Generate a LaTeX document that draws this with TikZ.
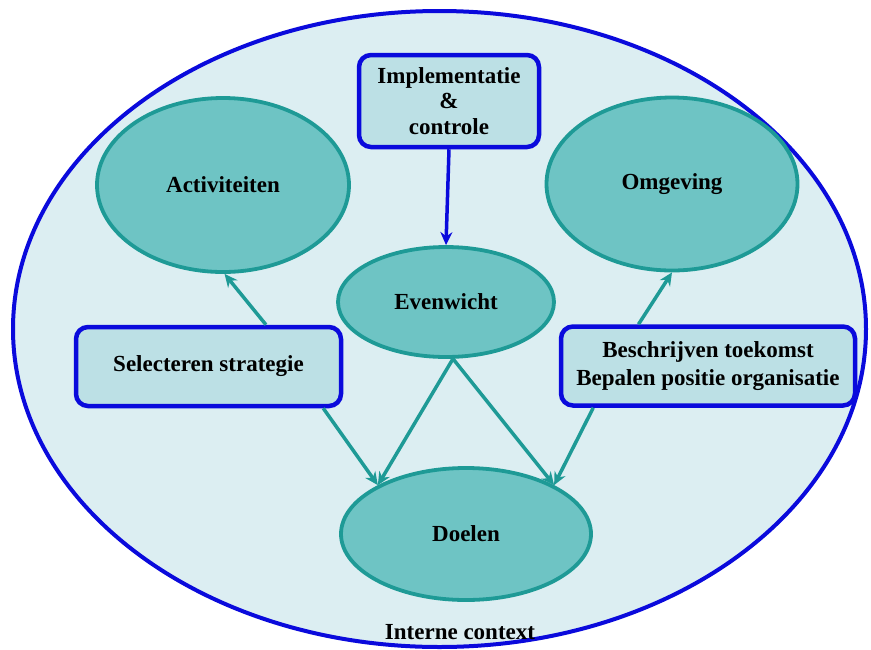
\documentclass[tikz,border=0pt]{standalone}
\usepackage{fontspec}
\setmainfont{Liberation Serif}
\usetikzlibrary{shapes.geometric,arrows.meta}

\definecolor{ctxfill}{HTML}{DCEEF2}
\definecolor{ctxblue}{HTML}{0A0ADC}
\definecolor{boxfill}{HTML}{BCE0E5}
\definecolor{tealfill}{HTML}{6EC4C4}
\definecolor{tealline}{HTML}{1E9A96}

\tikzset{
  blob/.style={ellipse, draw=tealline, fill=tealfill, line width=3.8pt, inner sep=0pt},
  taskbox/.style={rectangle, rounded corners=12pt, draw=ctxblue, fill=boxfill, line width=4.5pt, align=center, inner sep=0pt},
  flow/.style={-{Stealth[length=13pt,width=12pt]}, color=tealline, line width=3.5pt},
}

\begin{document}
\begin{tikzpicture}[x=1pt, y=-1pt, font=\fontsize{23}{25.5}\selectfont\bfseries]
    \useasboundingbox (0,0) rectangle (871,649);
    \node (ctx) at (439.5,329) [ellipse, draw=ctxblue, fill=ctxfill, line width=4pt, inner sep=0pt, minimum width=853pt, minimum height=636pt] {};
    \node (impl) at (449,101) [taskbox, minimum width=180pt, minimum height=92pt] {Implementatie\\\&\\controle};
    \node (act) at (223,185) [blob, minimum width=252pt, minimum height=174pt] {Activiteiten};
    \node (omg) at (672,184) [blob, minimum width=251pt, minimum height=173pt] {Omgeving};
    \node (ev) at (446,302) [blob, minimum width=216pt, minimum height=110pt] {Evenwicht};
    \node (doel) at (466,534) [blob, minimum width=250pt, minimum height=132pt] {Doelen};
    \node (sel) at (208.5,366.5) [taskbox, minimum width=265pt, minimum height=79pt] {Selecteren strategie};
    \node (besch) at (708,366) [taskbox, minimum width=294pt, minimum height=79pt, font=\fontsize{23}{28}\selectfont\bfseries] {Beschrijven toekomst\\Bepalen positie organisatie};
    \node (intern) at (460,632) {Interne context};
    \draw[flow, color=ctxblue] (impl.south) -- (ev.north);
    \draw[flow] (sel.36) -- (act.-89);
    \draw[flow] (sel.-20) -- (doel.151);
    \draw[flow] (ev.-83) -- (doel.151);
    \draw[flow] (ev.-83) -- (doel.29);
    \draw[flow] (besch.149) -- (omg.-90);
    \draw[flow] (besch.200) -- (doel.29); % both meet at the right
\end{tikzpicture}
\end{document}
